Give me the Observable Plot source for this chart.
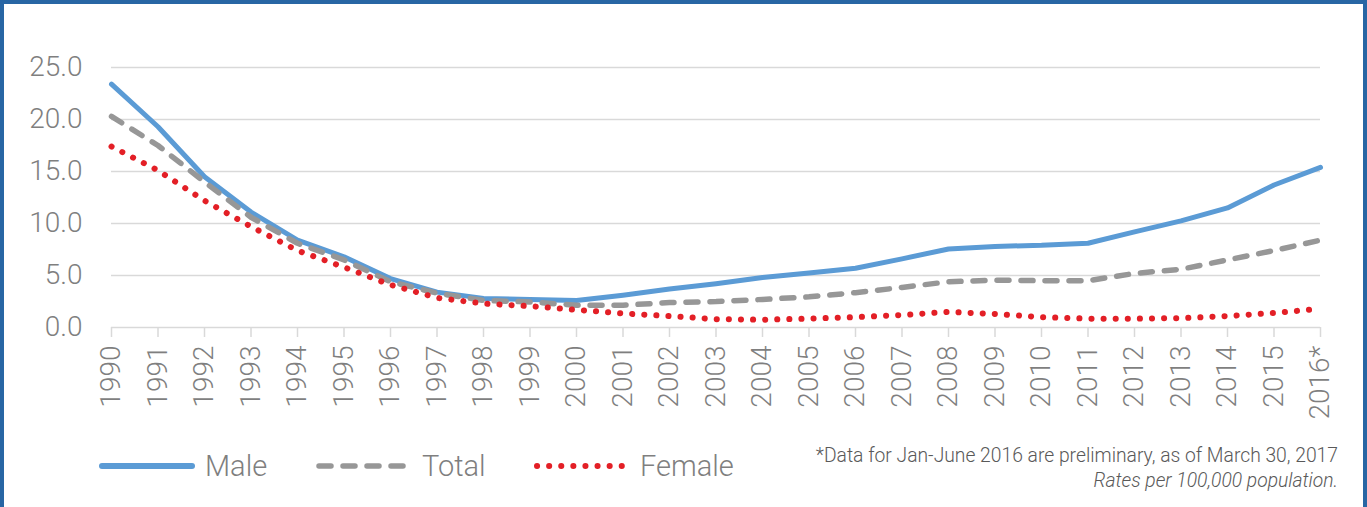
<!DOCTYPE html>
<html>
<head>
<meta charset="utf-8">
<script src="https://cdn.jsdelivr.net/npm/d3@7"></script>
<script src="https://cdn.jsdelivr.net/npm/@observablehq/plot@0.6"></script>
<style>
  html, body { margin: 0; padding: 0; background: #fff; }
  #wrap { position: relative; width: 1367px; height: 507px; overflow: hidden; background: #fff; font-family: Roboto, "Open Sans", sans-serif; }
  #chart { position: absolute; left: 0; top: 0; }
  #frame { position: absolute; left: 0; top: 0; width: 1367px; height: 520px; box-sizing: border-box;
           border-top: 4px solid #2866a4; border-left: 4px solid #2866a4; border-right: 4px solid #2866a4; pointer-events: none; }
  .leg { position: absolute; top: 446px; height: 40px; display: flex; align-items: center; color: #7f7f7f; font-size: 29px; font-weight: 300; }
  .leg svg { margin-right: 8px; }
  #caption { position: absolute; right: 29px; top: 443px; text-align: right; color: #595959; font-size: 19.3px; line-height: 25px; font-weight: 300; }
</style>
</head>
<body>
<div id="wrap">
  <div id="chart"></div>
  <div id="legend"></div>
  <div id="caption">*Data for Jan-June 2016 are preliminary, as of March 30, 2017<br><i>Rates per 100,000 population.</i></div>
  <div id="frame"></div>
</div>
<script>
const years = [1990,1991,1992,1993,1994,1995,1996,1997,1998,1999,2000,2001,2002,2003,2004,2005,2006,2007,2008,2009,2010,2011,2012,2013,2014,2015,2016];
const yearLabels = ["1990","1991","1992","1993","1994","1995","1996","1997","1998","1999","2000","2001","2002","2003","2004","2005","2006","2007","2008","2009","2010","2011","2012","2013","2014","2015","2016*"];
const male   = [23.4,19.3,14.5,11.1,8.4,6.8,4.7,3.4,2.8,2.7,2.6,3.1,3.7,4.2,4.8,5.25,5.7,6.6,7.55,7.8,7.9,8.1,9.2,10.25,11.5,13.7,15.4];
const total  = [20.3,17.5,14.0,10.6,8.1,6.5,4.4,3.3,2.6,2.45,2.15,2.15,2.4,2.5,2.7,2.95,3.35,3.85,4.4,4.55,4.5,4.5,5.2,5.6,6.5,7.4,8.4];
const female = [17.4,15.1,12.2,9.7,7.4,5.8,4.1,2.85,2.3,2.05,1.7,1.35,1.1,0.8,0.75,0.85,1.0,1.2,1.5,1.3,1.0,0.85,0.85,0.9,1.1,1.4,1.8];
const yTicks = [0,5,10,15,20,25];

const seriesNames = ["Male","Total","Female"];
const colors = {Male: "#5b9bd5", Total: "#979797", Female: "#e31f26"};
const dashes = {Male: null, Total: "12,12", Female: "0.1,12"};

const rows = (vals) => years.map((yr, i) => ({year: yr, value: vals[i]}));
const labelOf = new Map(years.map((y, i) => [y, yearLabels[i]]));

const plot = Plot.plot({
  width: 1367,
  height: 420,
  marginLeft: 111,
  marginRight: 47,
  marginTop: 67,
  marginBottom: 93,
  style: {fontFamily: "Roboto, 'Open Sans', sans-serif", background: "transparent", overflow: "visible"},
  x: {type: "linear", domain: [1990, 2016]},
  y: {domain: [0, 25]},
  marks: [
    Plot.gridY(yTicks.filter(d => d > 0), {stroke: "#d9d9d9", strokeOpacity: 1, strokeWidth: 1.5}),
    Plot.axisY(yTicks, {tickSize: 0, tickPadding: 29, tickFormat: d3.format(".1f"), fontSize: 28, fill: "#7f7f7f", fontWeight: 300, label: null}),
    Plot.ruleY([0], {stroke: "#d9d9d9", strokeWidth: 1.5}),
    Plot.axisX(years, {tickSize: 10, tickPadding: 8, tickRotate: -90, tickFormat: d => labelOf.get(d), stroke: "#d9d9d9", strokeWidth: 1.5, fontSize: 28, fill: "#7f7f7f", fontWeight: 300, label: null}),
    Plot.line(rows(male), {x: "year", y: "value", stroke: colors.Male, strokeWidth: 5, strokeLinejoin: "round", strokeLinecap: "round"}),
    Plot.line(rows(total), {x: "year", y: "value", stroke: colors.Total, strokeWidth: 5.5, strokeDasharray: dashes.Total, strokeLinecap: "round"}),
    Plot.line(rows(female), {x: "year", y: "value", stroke: colors.Female, strokeWidth: 6, strokeDasharray: dashes.Female, strokeLinecap: "round"})
  ]
});
document.getElementById("chart").appendChild(plot);

// legend
const legend = document.getElementById("legend");
const legendPos = {Male: 97, Total: 314, Female: 532};
for (const name of seriesNames) {
  const div = document.createElement("div");
  div.className = "leg";
  div.style.left = legendPos[name] + "px";
  const svg = d3.create("svg").attr("width", 100).attr("height", 20);
  const ln = svg.append("line").attr("x1", 5).attr("x2", name === "Male" ? 95 : 92).attr("y1", 10).attr("y2", 10)
    .attr("stroke", colors[name]).attr("stroke-width", name === "Male" ? 6 : (name === "Female" ? 6 : 5.5)).attr("stroke-linecap", "round");
  if (dashes[name]) ln.attr("stroke-dasharray", dashes[name]);
  div.appendChild(svg.node());
  const sp = document.createElement("span");
  sp.textContent = name;
  div.appendChild(sp);
  legend.appendChild(div);
}
</script>
</body>
</html>
